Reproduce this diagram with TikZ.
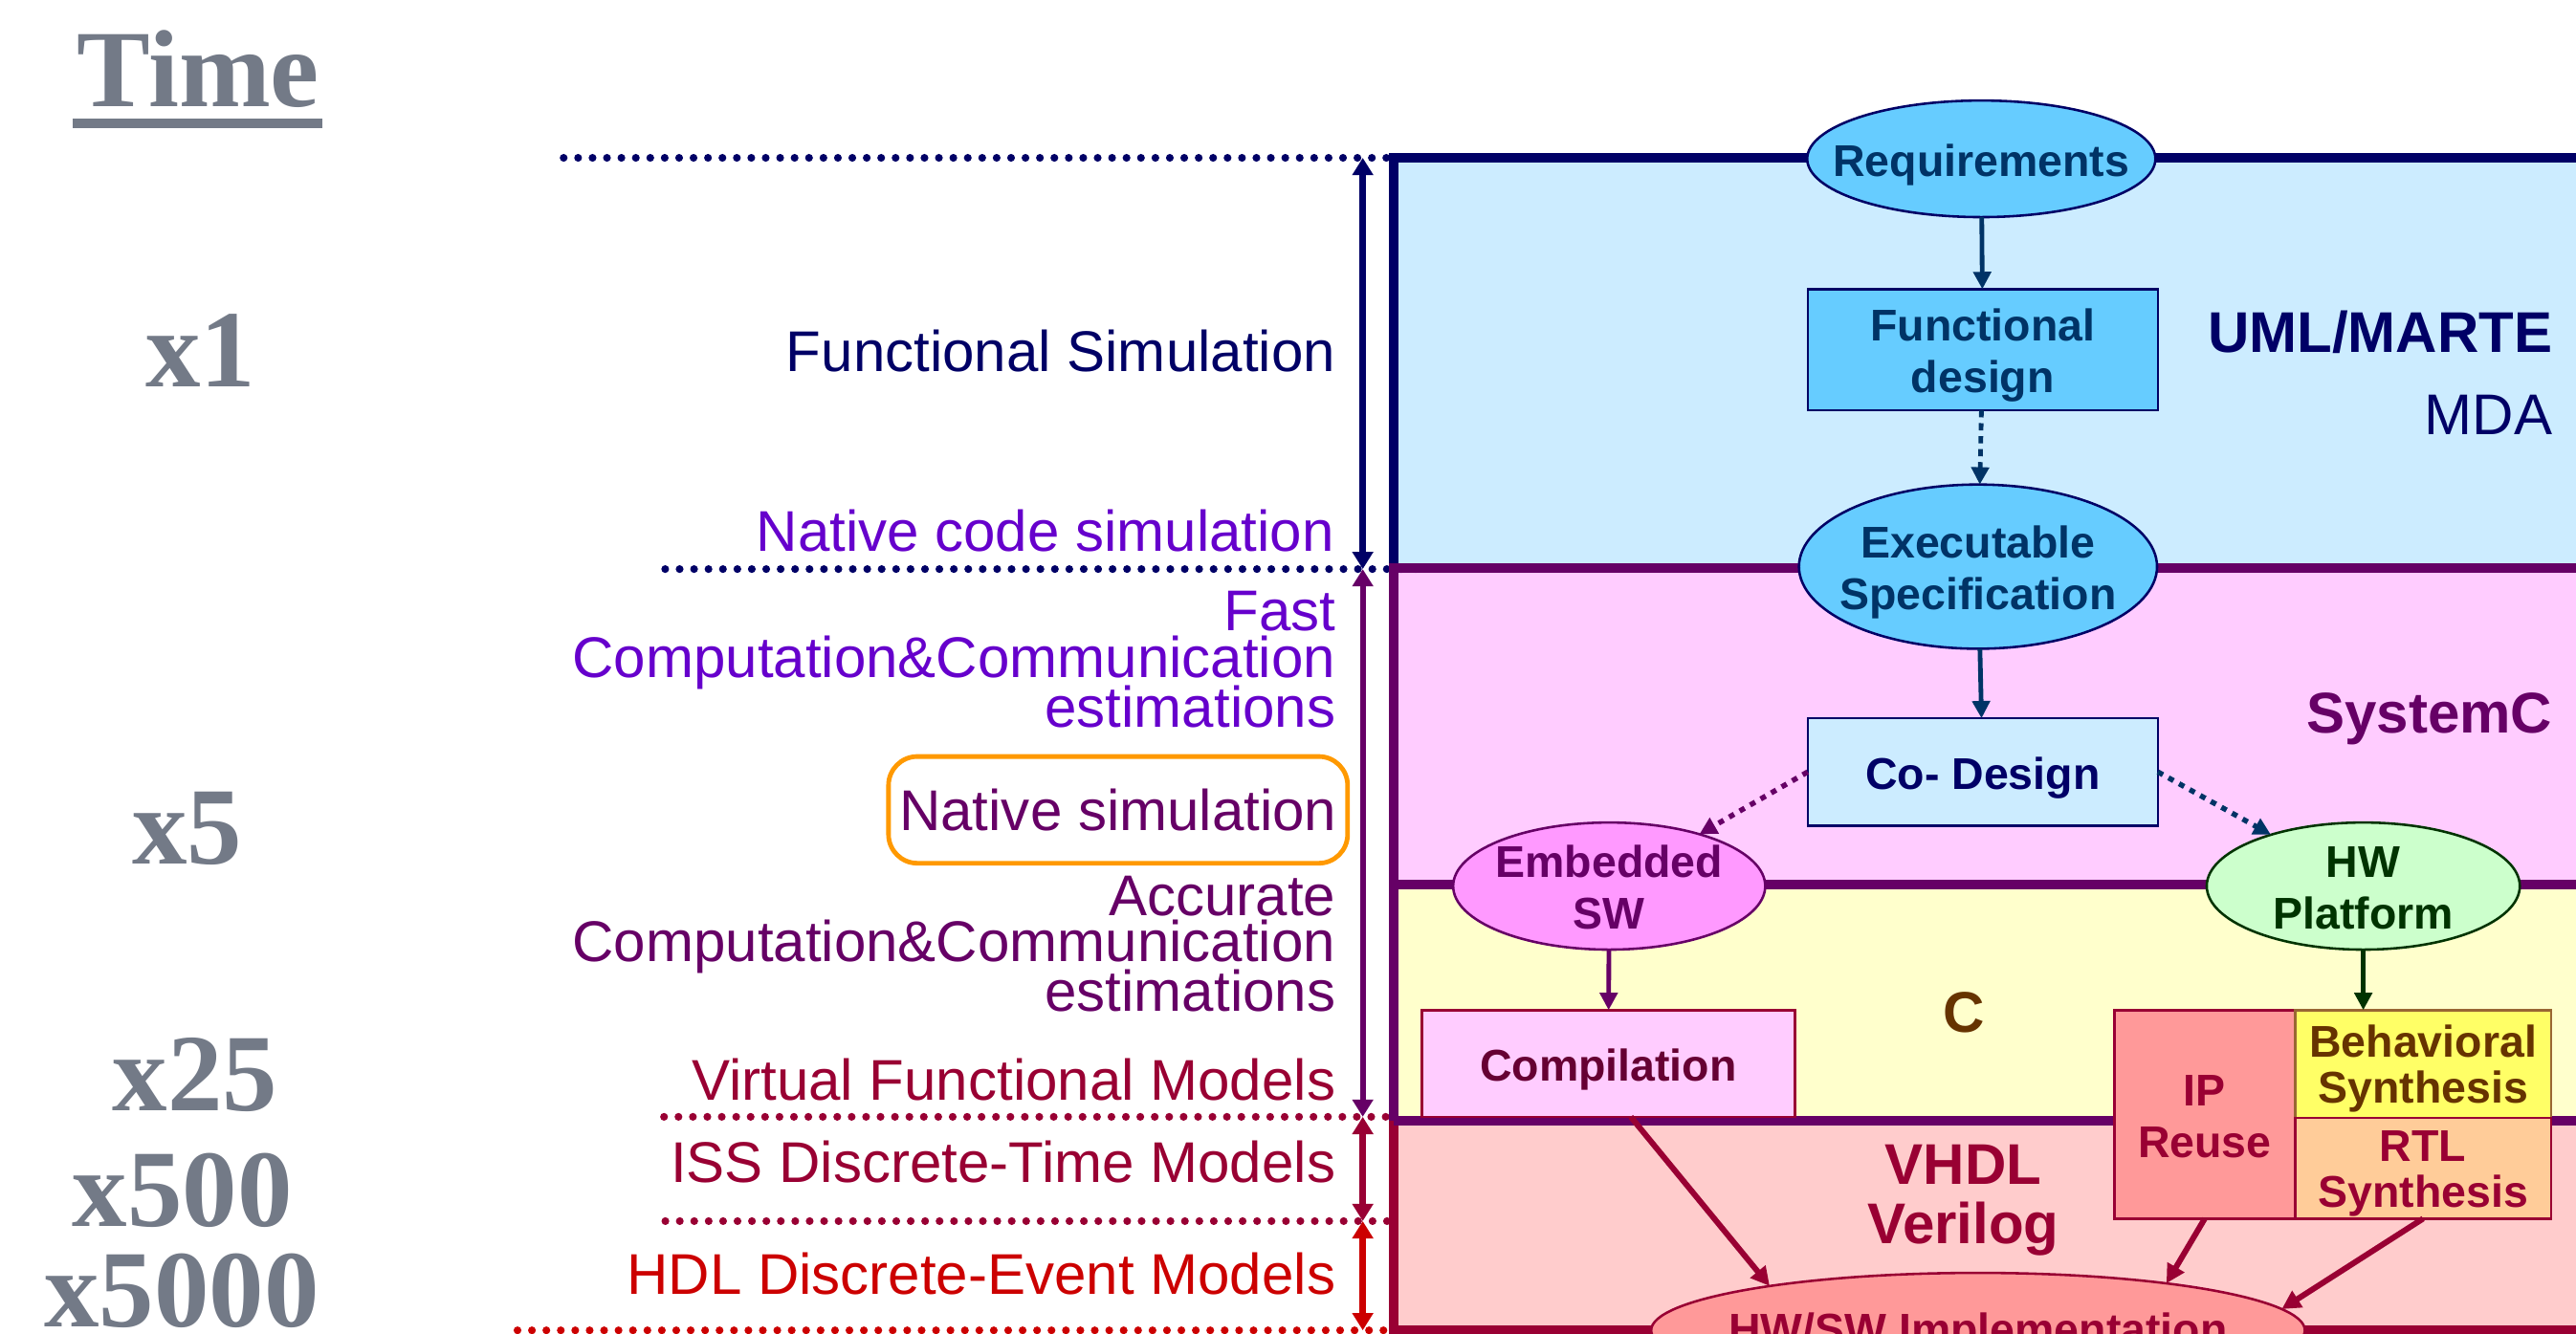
\documentclass[tikz,border=0pt]{standalone}
\usepackage{fontspec}
\setmainfont{Liberation Sans}
\newfontfamily\serifb{Liberation Serif}
\usetikzlibrary{shapes.geometric, arrows.meta, calc}

\definecolor{navy}{HTML}{000066}
\definecolor{dpurple}{HTML}{660066}
\definecolor{violetb}{HTML}{6600CC}
\definecolor{dred}{HTML}{990033}
\definecolor{bred}{HTML}{CC0000}
\definecolor{tgray}{HTML}{737A87}
\definecolor{bandblue}{HTML}{CCECFF}
\definecolor{bandpink}{HTML}{FFCCFF}
\definecolor{bandyellow}{HTML}{FFFFCC}
\definecolor{bandred}{HTML}{FFCCCC}
\definecolor{skyfill}{HTML}{66CCFF}
\definecolor{tealb}{HTML}{003366}
\definecolor{magfill}{HTML}{FF99FF}
\definecolor{greenfill}{HTML}{CCFFCC}
\definecolor{dgreen}{HTML}{003300}
\definecolor{salmon}{HTML}{FF9999}
\definecolor{yfill}{HTML}{FFFF66}
\definecolor{peach}{HTML}{FFCC99}
\definecolor{brownb}{HTML}{663300}
\definecolor{brownl}{HTML}{996633}
\definecolor{wine}{HTML}{660033}
\definecolor{orangeb}{HTML}{FF9900}

\newcommand\ztxt[2][-6pt]{\makebox[0pt]{\raisebox{#1}[0pt][0pt]{\begin{tabular}{@{}c@{}}#2\end{tabular}}}}

\begin{document}
\begin{tikzpicture}[x=0.02cm, y=-0.02cm,
  lab/.style={font=\fontsize{19.9}{16.8}\selectfont, inner sep=0pt, anchor=base east},
  biglab/.style={font=\bfseries\fontsize{19.9}{19.5}\selectfont, inner sep=0pt},
  tm/.style={font=\serifb\bfseries\fontsize{38.1}{40}\selectfont, text=tgray, inner sep=0pt, anchor=base},
  nd/.style={font=\bfseries\fontsize{15.4}{17.9}\selectfont, inner sep=0pt, outer sep=0pt, line width=0.85pt},
  ell/.style={nd, ellipse},
  rbox/.style={nd, rectangle},
  dotl/.style={line width=2.7pt, line cap=round, dash pattern=on 0pt off 5pt},
  bandline/.style={line width=3.2pt},
  varr/.style={line width=2.3pt, {Triangle[length=6pt,width=7pt]}-{Triangle[length=6pt,width=7pt]}},
  conn/.style={line width=1.6pt, -{Triangle[length=6pt,width=6pt]}},
  dconn/.style={conn, dash pattern=on 2.5pt off 2pt},
  pconn/.style={conn, line width=1.8pt, dash pattern=on 2pt off 2.2pt},
  rconn/.style={line width=2pt, dred, -{Triangle[length=6.5pt,width=6.5pt]}}
]
\clip (0,0) rectangle (1568,812.2);

% bands
\fill[bandblue] (848.3,96) rectangle (1580,346);
\fill[bandpink] (848.3,346) rectangle (1580,538.5);
\fill[bandyellow] (848.3,538.5) rectangle (1580,682.5);
\fill[bandred] (848.3,682.5) rectangle (1580,810);

% level coordinates
\coordinate (l1a) at (343.1,96.1);   \coordinate (l1b) at (868,96.1);
\coordinate (l2a) at (404.9,346.5);  \coordinate (l2b) at (868,346.5);
\coordinate (l3a) at (404.2,680);    \coordinate (l3b) at (846,680);
\coordinate (l4a) at (405,743.5);    \coordinate (l4b) at (846,743.5);
\coordinate (l5a) at (315,810);      \coordinate (l5b) at (846,810);
\coordinate (m1) at (829.5,96.1);
\coordinate (m2) at (829.5,346.5);
\coordinate (m3) at (829.5,680);
\coordinate (m4) at (829.5,743.5);
\coordinate (m5) at (829.5,810);

% dotted level lines
\draw[dotl, navy] (l1a) -- (l1b);
\draw[dotl, navy] (l2a) -- (l2b);
\draw[dotl, dred] (l3a) -- (l3b);
\draw[dotl, dred] (l4a) -- (l4b);
\draw[dotl, bred] (l5a) -- (l5b);

% frame borders
\draw[bandline, dred] (848.3,682.5) -- (848.3,810) -- (1580,810);
\draw[bandline, navy] (848.3,346) -- (848.3,96) -- (1580,96);
\draw[bandline, dpurple] (848.3,682.5) -- (848.3,346) -- (1580,346);
\draw[bandline, dpurple] (848.3,538.5) -- (1580,538.5);
\draw[bandline, dpurple] (848.3,682.5) -- (1580,682.5);

% vertical measuring arrows
\draw[varr, navy] (m1) -- (m2);
\draw[varr, dpurple, line width=2pt] (m2) -- (m3);
\draw[varr, dred] (m3) -- (m4);
\draw[varr, bred] (m4) -- (m5);

% Time column
\node[tm] (time) at (120.7,65) {Time};
\draw[tgray, line width=3.4pt] (44.2,75) -- (196.2,75);
\node[tm] (x1) at (122,235.8) {x1};
\node[tm] (x5) at (114,526) {x5};
\node[tm] (x25) at (118.7,676) {x25};
\node[tm] (x500) at (111,747) {x500};
\node[tm] (x5000) at (110.5,808) {x5000};

% left labels
\node[lab, text=navy] (funsim) at (813.2,226.1) {Functional Simulation};
\node[lab, text=violetb] (natcode) at (812.5,335.4) {Native code simulation};
\node[lab, text=violetb] (fast1) at (813.3,384.1) {Fast};
\node[lab, text=violetb] (fast2) at (813.3,412.8) {Computation\&Communication};
\node[lab, text=violetb] (fast3) at (813.3,443) {estimations};
\node[draw=orangeb, line width=1.6pt, rounded corners=10pt, minimum width=5.59cm, minimum height=1.3cm,
      inner sep=0pt, font=\fontsize{19.9}{16.8}\selectfont, text=dpurple] (natsim) at (680.55,493.1) {Native simulation};
\node[lab, text=dpurple] (acc1) at (813.3,557.5) {Accurate};
\node[lab, text=dpurple] (acc2) at (813.3,585.5) {Computation\&Communication};
\node[lab, text=dpurple] (acc3) at (813.3,616) {estimations};
\node[lab, text=dred] (virt) at (813.3,669.7) {Virtual Functional Models};
\node[lab, text=dred] (iss) at (813.3,720) {ISS Discrete-Time Models};
\node[lab, text=bred] (hdl) at (813.3,787.8) {HDL Discrete-Event Models};

% right-side labels
\node[biglab, text=navy, anchor=base east] (uml) at (1554,214.4) {UML/MARTE};
\node[lab, text=navy, anchor=base east] (mda) at (1554,264.9) {MDA};
\node[biglab, text=dpurple, anchor=base east] (sysc) at (1554,446) {SystemC};
\node[biglab, text=brownb, anchor=base] (clang) at (1195.6,628.4) {C};
\node[biglab, text=dred] (vhdl) at (1195,727) {\ztxt[-8.2pt]{VHDL\\Verilog}};

% flow nodes
\node[ell, fill=skyfill, draw=navy, text=tealb, minimum width=4.24cm, minimum height=1.42cm] (req) at (1206,96.7) {\ztxt{Requirements}};
\node[rbox, fill=skyfill, draw=navy, text=tealb, minimum width=4.262cm, minimum height=1.474cm] (fdes) at (1206.9,212.9) {\ztxt{Functional\\design}};
\node[ell, fill=skyfill, draw=navy, text=tealb, minimum width=4.36cm, minimum height=2.0cm] (exec) at (1204,345) {\ztxt{Executable\\Specification}};
\node[rbox, fill=bandblue, draw=navy, text=navy, minimum width=4.264cm, minimum height=1.306cm] (codes) at (1206.9,470) {\ztxt{Co- Design}};
\node[ell, fill=magfill, draw=dpurple, text=dpurple, minimum width=3.8cm, minimum height=1.548cm] (emb) at (979.5,539.5) {\ztxt{Embedded\\SW}};
\node[ell, fill=greenfill, draw=dgreen, text=dgreen, minimum width=3.812cm, minimum height=1.548cm] (hwp) at (1438.5,539.5) {\ztxt{HW\\Platform}};
\node[rbox, fill=bandpink, draw=dred, text=wine, minimum width=4.54cm, minimum height=1.3cm] (comp) at (979,647.5) {\ztxt{Compilation}};
\node[rbox, fill=salmon, draw=dred, text=dred, minimum width=2.2cm, minimum height=2.54cm] (ipr) at (1342,678.5) {\ztxt{IP\\Reuse}};
\node[rbox, fill=yfill, draw=brownl, text=brownb, minimum width=3.116cm, minimum height=1.312cm, font=\bfseries\fontsize{15.4}{16}\selectfont] (beh) at (1474.9,647.8) {\ztxt{Behavioral\\Synthesis}};
\node[rbox, fill=peach, draw=dred, text=dred, minimum width=3.116cm, minimum height=1.228cm, font=\bfseries\fontsize{15.4}{16}\selectfont] (rtl) at (1474.9,711.3) {\ztxt{RTL\\Synthesis}};
\node[ell, fill=salmon, draw=dred, text=dred, minimum width=7.96cm, minimum height=1.4cm] (hws) at (1204,810) {\ztxt[-5pt]{HW/SW Implementation}};

% connectors
\draw[conn, tealb] (req) -- (fdes);
\draw[dconn, tealb] (fdes) -- (exec);
\draw[conn, tealb] (exec) -- (codes);
\draw[pconn, dpurple] (codes.west) -- (emb);
\draw[pconn, tealb] (codes.east) -- (hwp);
\draw[conn, dpurple] (emb) -- (comp);
\draw[conn, dgreen] (hwp.south) -- (hwp.south |- beh.north);
\draw[rconn] ($(comp.south west)!0.56!(comp.south east)$) -- (hws.168.2);
\draw[rconn] (ipr.south) -- (hws.14);
\draw[rconn] (rtl.south) -- (hws.4);
\end{tikzpicture}
\end{document}
